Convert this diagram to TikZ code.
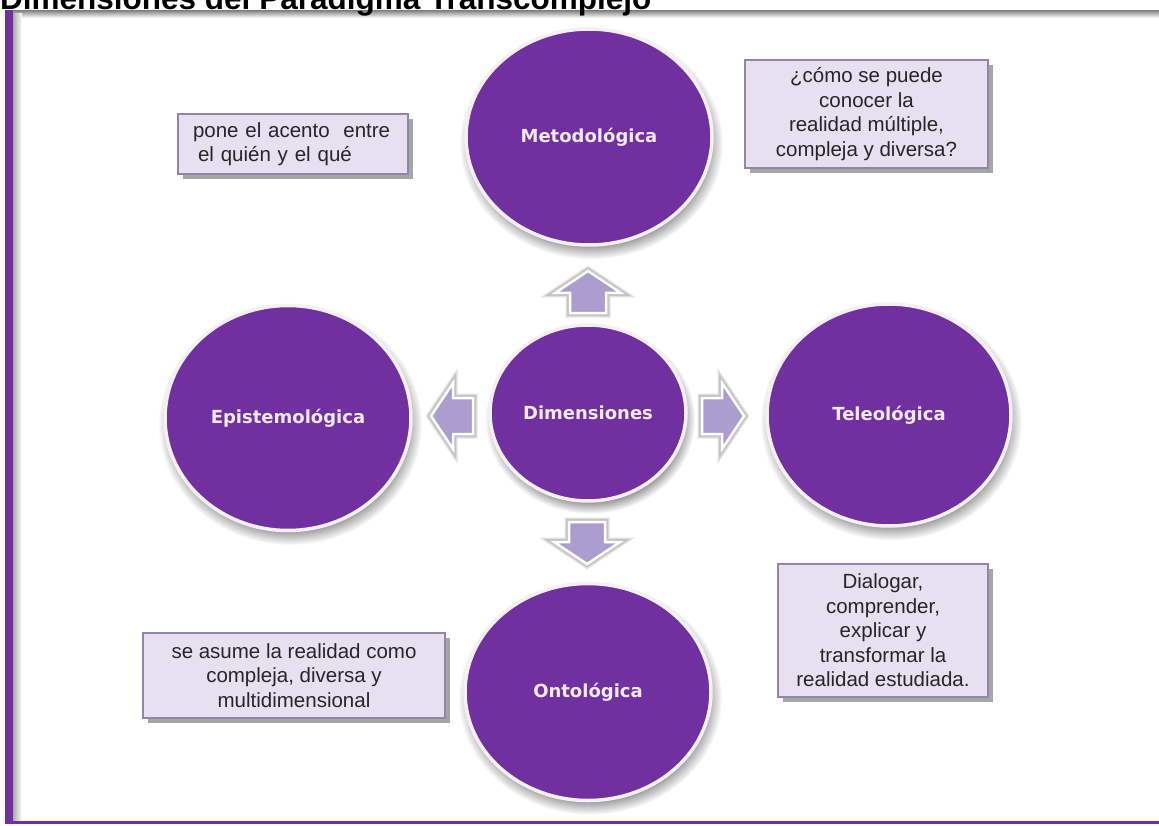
\documentclass[tikz,border=0pt]{standalone}
\usepackage{fontspec}
\setmainfont{Liberation Sans}
\newfontfamily\circfont{DejaVu Sans}
\usetikzlibrary{shapes.geometric,shadows,calc,fadings}

\definecolor{purp}{HTML}{7030A0}
\definecolor{ring}{HTML}{F4F0F8}
\definecolor{boxfill}{HTML}{E6E0F0}
\definecolor{boxline}{HTML}{8F86AA}
\definecolor{arrowfill}{HTML}{AB9ECF}
\definecolor{circtext}{HTML}{F3EAFB}
\definecolor{txt}{HTML}{262626}

\begin{document}
\begin{tikzpicture}[x=1pt,y=-1pt,
  dim/.style={ellipse, inner sep=0pt, fill=purp, draw=ring, line width=3.5pt,
    font=\circfont\bfseries\fontsize{18}{21}\selectfont, text=circtext,
    circular drop shadow={shadow xshift=2pt, shadow yshift=-6pt, shadow scale=1.07, opacity=0.8, fill=black!60}},
  note/.style={rectangle, fill=boxfill, draw=boxline, line width=1.5pt, inner sep=0pt,
    font=\fontsize{20.5}{24.5}\selectfont, text=txt, align=center,
    drop shadow={shadow xshift=5pt, shadow yshift=-5pt, opacity=0.35, fill=black}},
  glow/.style={draw=black, line join=miter, opacity=0.12},
  arrowsty/.style={fill=arrowfill, draw=white, line width=2.5pt, line join=miter},
  barrow/.pic={
    \path[glow, line width=9pt] (0,-18) -- (20,-18) -- (20,-33) -- (42,0) -- (20,33) -- (20,18) -- (0,18) -- cycle;
    \path[glow, line width=6pt] (0,-18) -- (20,-18) -- (20,-33) -- (42,0) -- (20,33) -- (20,18) -- (0,18) -- cycle;
    \path[arrowsty] (0,-18) -- (20,-18) -- (20,-33) -- (42,0) -- (20,33) -- (20,18) -- (0,18) -- cycle;}
]
\useasboundingbox (0,0) rectangle (1159,826);
\clip (0,0) rectangle (1159,826);
\fill[white] (0,0) rectangle (1159,826);

% frame
\shade[top color=black!45, bottom color=white] (12.5,11) rectangle (1159,18);
\shade[left color=black!35, right color=white] (12.5,14) rectangle (22,821);
\fill[purp] (5,10) rectangle (12.5,823.5);
\fill[purp] (5,821) rectangle (1159,823.5);

% title
\node[anchor=base west, inner sep=0pt, font=\bfseries\fontsize{31.5}{36}\selectfont] (title) at (0,10) {Dimensiones del Paradigma Transcomplejo};

% block arrows
\pic[rotate=90] (aup) at (588,313) {barrow};
\pic[rotate=-90] (adown) at (587,522) {barrow};
\pic[rotate=180] (aleft) at (473,416) {barrow};
\pic (aright) at (702,416) {barrow};

% circles
\node[dim, minimum width=246pt, minimum height=216pt] (met) at (589,137) {Metodológica};
\node[dim, minimum width=246pt, minimum height=225pt] (epi) at (288,418) {Epistemológica};
\node[dim, minimum width=244pt, minimum height=222pt] (tel) at (889,415) {Teleológica};
\node[dim, minimum width=246pt, minimum height=217pt] (ont) at (588,692) {Ontológica};
\node[dim, minimum width=196pt, minimum height=176pt] (dim) at (588,413) {Dimensiones};

% notes
\node[note, minimum width=230pt, minimum height=60pt, align=left, text width=200pt] (n1) at (293,144)
  {pone el acento\ \ entre\\\hspace*{5pt}el quién y el qué};
\node[note, minimum width=243pt, minimum height=108pt] (n2) at (866.5,114)
  {¿cómo se puede\\conocer la\\realidad múltiple,\\compleja y diversa?};
\node[note, minimum width=302pt, minimum height=85pt] (n3) at (294,675.5)
  {se asume la realidad como\\compleja, diversa y\\multidimensional};
\node[note, minimum width=210pt, minimum height=133pt] (n4) at (883,630.5)
  {Dialogar,\\comprender,\\explicar y\\transformar la\\realidad estudiada.};
\end{tikzpicture}
\end{document}
